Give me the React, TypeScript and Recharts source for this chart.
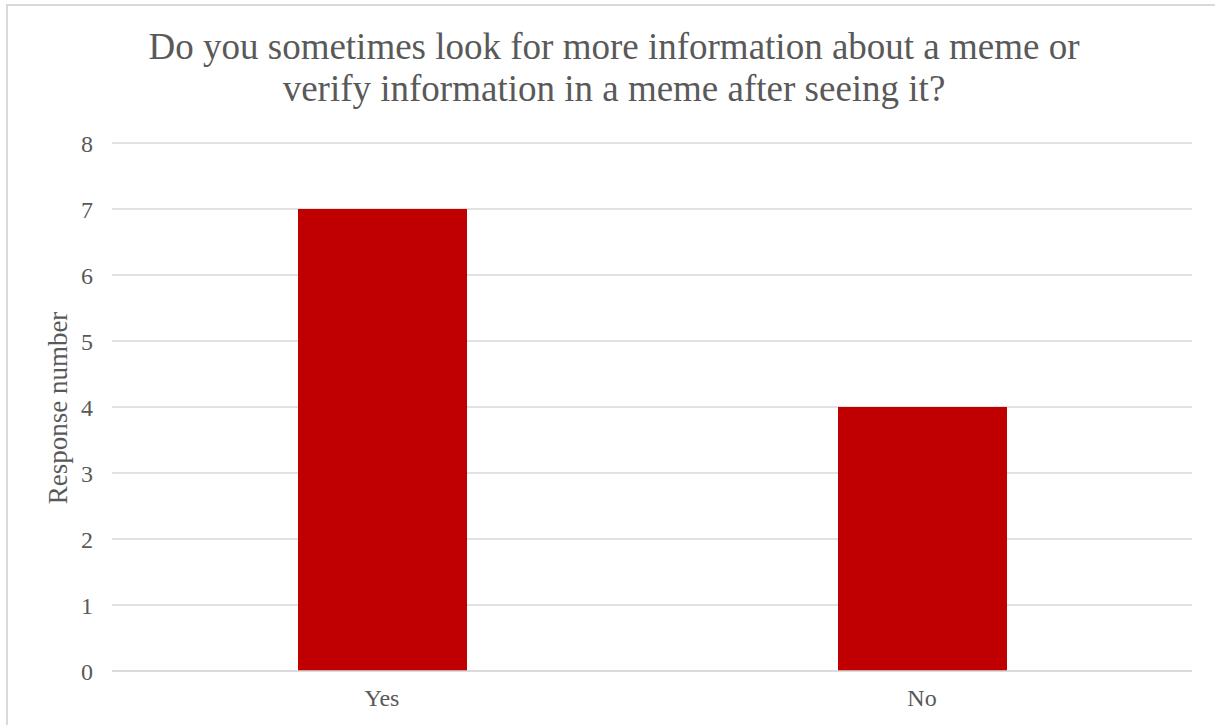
import { BarChart, Bar, XAxis, YAxis, CartesianGrid } from 'recharts';

const answers = ['Yes', 'No'];
const responses = [7, 4];
const yTicks = [0, 1, 2, 3, 4, 5, 6, 7, 8];

const chartData = answers.map((answer, i) => ({ answer, count: responses[i] }));

const FONT = '"Liberation Serif", "Times New Roman", serif';
const TEXT = '#595959';
const GRID = '#d9d9d9';

export default function App() {
  return (
    <div
      style={{
        position: 'fixed',
        left: 0,
        top: 0,
        width: 1215,
        height: 725,
        overflow: 'hidden',
        background: '#fff',
        fontFamily: FONT,
      }}
    >
      {/* chart frame, its right and bottom edges sit outside the picture */}
      <div
        style={{
          position: 'absolute',
          left: 6,
          top: 4,
          width: 1400,
          height: 900,
          border: `2px solid ${GRID}`,
          boxSizing: 'border-box',
        }}
      />
      <div
        style={{
          position: 'absolute',
          left: 0,
          top: 26,
          width: 1228,
          textAlign: 'center',
          fontSize: 37,
          lineHeight: '42px',
          color: TEXT,
        }}
      >
        Do you sometimes look for more information about a meme or
        <br />
        verify information in a meme after seeing it?
      </div>
      <div
        style={{
          position: 'absolute',
          left: 58,
          top: 408,
          transform: 'translate(-50%, -50%) rotate(-90deg)',
          whiteSpace: 'nowrap',
          fontSize: 27,
          color: TEXT,
        }}
      >
        Response number
      </div>
      <div style={{ position: 'absolute', left: 0, top: 0 }}>
        <BarChart
          width={1215}
          height={725}
          data={chartData}
          margin={{ top: 143, right: 23, bottom: 0, left: 0 }}
        >
          <CartesianGrid vertical={false} stroke={GRID} strokeWidth={1.5} />
          <XAxis
            dataKey="answer"
            height={54}
            axisLine={{ stroke: GRID, strokeWidth: 1.5 }}
            tickLine={false}
            tickMargin={12}
            tick={{ fill: TEXT, fontSize: 24, fontFamily: FONT }}
          />
          <YAxis
            width={112}
            domain={[0, 8]}
            ticks={yTicks}
            axisLine={false}
            tickLine={false}
            tickMargin={13}
            tick={{ fill: TEXT, fontSize: 24, fontFamily: FONT }}
          />
          <Bar dataKey="count" fill="#c00000" barSize={169} isAnimationActive={false} />
        </BarChart>
      </div>
    </div>
  );
}
